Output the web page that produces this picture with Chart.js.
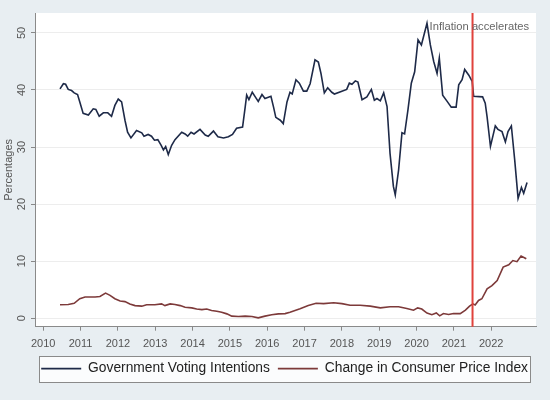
<!DOCTYPE html>
<html>
<head>
<meta charset="utf-8">
<script src="https://cdn.jsdelivr.net/npm/chart.js@4.4.0/dist/chart.umd.min.js"></script>
<style>
  html, body { margin: 0; padding: 0; background: #e8eef2; }
  #wrap { width: 550px; height: 400px; }
</style>
</head>
<body>
<div id="wrap"><canvas id="chart" width="550" height="400"></canvas></div>
<script>
// decimal years
var govDates = [2010.45, 2010.54, 2010.60, 2010.67, 2010.76, 2010.83, 2010.92, 2010.98, 2011.07, 2011.21,
  2011.34, 2011.41, 2011.50, 2011.61, 2011.73, 2011.83, 2011.92, 2012.01, 2012.10, 2012.19,
  2012.26, 2012.35, 2012.50, 2012.64, 2012.70, 2012.81, 2012.90, 2012.98, 2013.07, 2013.16,
  2013.22, 2013.28, 2013.35, 2013.44, 2013.53, 2013.71, 2013.80, 2013.87, 2013.96, 2014.04,
  2014.20, 2014.34, 2014.42, 2014.56, 2014.68, 2014.83, 2014.96, 2015.07, 2015.18, 2015.34,
  2015.41, 2015.45, 2015.51, 2015.60, 2015.68, 2015.76, 2015.86, 2015.94, 2016.10, 2016.17,
  2016.23, 2016.35, 2016.43, 2016.53, 2016.61, 2016.67, 2016.77, 2016.86, 2016.97, 2017.06,
  2017.15, 2017.28, 2017.37, 2017.44, 2017.53, 2017.62, 2017.73, 2017.80, 2018.00, 2018.13,
  2018.20, 2018.27, 2018.36, 2018.43, 2018.54, 2018.67, 2018.79, 2018.87, 2018.94, 2019.03,
  2019.12, 2019.21, 2019.29, 2019.38, 2019.43, 2019.52, 2019.61, 2019.68, 2019.77, 2019.86,
  2019.95, 2020.04, 2020.13, 2020.28, 2020.37, 2020.46, 2020.55, 2020.61, 2020.70, 2020.82,
  2020.93, 2021.06, 2021.13, 2021.22, 2021.29, 2021.40, 2021.49, 2021.53, 2021.77, 2021.84,
  2021.89, 2021.98, 2022.11, 2022.18, 2022.29, 2022.38, 2022.45, 2022.54, 2022.63, 2022.72,
  2022.81, 2022.87, 2022.96];
var govValues = [40.2, 41.1, 41.0, 40.1, 39.9, 39.5, 39.2, 37.9, 35.9, 35.6,
  36.7, 36.6, 35.4, 36.0, 36.0, 35.4, 37.3, 38.4, 37.9, 34.7,
  32.6, 31.6, 32.9, 32.5, 31.9, 32.2, 31.9, 31.2, 31.3, 30.3,
  29.5, 30.1, 28.7, 30.3, 31.3, 32.6, 32.3, 31.9, 32.6, 32.3,
  33.1, 32.1, 31.9, 32.8, 31.8, 31.6, 31.8, 32.2, 33.3, 33.5,
  37.0, 39.1, 38.3, 39.6, 38.8, 38.0, 39.2, 38.5, 38.9, 37.0,
  35.2, 34.7, 34.1, 37.9, 39.6, 39.3, 41.8, 41.2, 39.8, 39.8,
  41.1, 45.3, 44.9, 42.9, 39.5, 40.4, 39.6, 39.3, 39.8, 40.1,
  41.2, 41.0, 41.6, 41.4, 38.3, 38.8, 40.1, 38.2, 38.5, 38.1,
  39.5, 37.1, 28.9, 23.1, 21.6, 26.0, 32.5, 32.3, 36.5, 41.2,
  43.2, 48.8, 47.9, 51.7, 47.9, 45.0, 42.9, 45.6, 39.1, 38.0,
  37.0, 37.0, 40.9, 41.8, 43.6, 42.6, 41.5, 38.9, 38.8, 37.7,
  35.3, 30.1, 33.7, 33.1, 32.7, 30.9, 32.7, 33.7, 27.7, 21.0,
  22.9, 21.9, 23.8];

var cpiDates = [2010.45, 2010.67, 2010.83, 2010.98, 2011.12, 2011.25, 2011.39, 2011.52, 2011.67, 2011.79,
  2011.92, 2012.06, 2012.19, 2012.32, 2012.46, 2012.64, 2012.77, 2012.99, 2013.17, 2013.26,
  2013.40, 2013.53, 2013.67, 2013.80, 2013.98, 2014.11, 2014.25, 2014.38, 2014.51, 2014.65,
  2014.78, 2014.92, 2015.05, 2015.23, 2015.41, 2015.59, 2015.76, 2015.94, 2016.12, 2016.30,
  2016.48, 2016.61, 2016.88, 2017.10, 2017.31, 2017.51, 2017.78, 2018.00, 2018.22, 2018.49,
  2018.76, 2019.03, 2019.29, 2019.52, 2019.74, 2019.92, 2020.03, 2020.14, 2020.28, 2020.41,
  2020.53, 2020.62, 2020.72, 2020.86, 2020.99, 2021.17, 2021.31, 2021.42, 2021.51, 2021.57,
  2021.66, 2021.75, 2021.89, 2022.02, 2022.16, 2022.32, 2022.47, 2022.58, 2022.69, 2022.80,
  2022.94];
var cpiValues = [2.35, 2.4, 2.6, 3.4, 3.7, 3.7, 3.7, 3.8, 4.4, 4.0,
  3.4, 3.0, 2.9, 2.5, 2.2, 2.1, 2.35, 2.35, 2.5, 2.2,
  2.5, 2.4, 2.2, 1.9, 1.8, 1.6, 1.5, 1.6, 1.35, 1.2,
  1.05, 0.75, 0.35, 0.3, 0.35, 0.3, 0.05, 0.35, 0.6, 0.75,
  0.8, 1.05, 1.65, 2.2, 2.6, 2.55, 2.7, 2.55, 2.25, 2.25,
  2.1, 1.8, 2.0, 2.0, 1.7, 1.4, 1.8, 1.6, 0.9, 0.6,
  0.9, 0.4, 0.8, 0.65, 0.8, 0.8, 1.4, 2.1, 2.5, 2.3,
  3.1, 3.4, 5.15, 5.7, 6.6, 8.95, 9.35, 10.1, 9.9, 10.9,
  10.4];

var seriesNames = ['Government Voting Intentions', 'Change in Consumer Price Index'];
var xTicks = [2010, 2011, 2012, 2013, 2014, 2015, 2016, 2017, 2018, 2019, 2020, 2021, 2022];
var yTicks = [0, 10, 20, 30, 40, 50];
var inflationDate = 2021.5;
var noteText = 'Inflation accelerates';
var noteX = 2020.35;
var noteY = 51;

function toPoints(xs, ys) {
  return xs.map(function (x, i) { return { x: x, y: ys[i] }; });
}

var FONT = '"Liberation Sans", Arial, sans-serif';
Chart.defaults.font.family = FONT;

var stataLook = {
  id: 'stataLook',
  beforeDraw: function (chart) {
    var ctx = chart.ctx, a = chart.chartArea;
    ctx.save();
    ctx.fillStyle = '#e8eef2';
    ctx.fillRect(0, 0, chart.width, chart.height);
    ctx.fillStyle = '#ffffff';
    ctx.fillRect(a.left, a.top, a.right - a.left, a.bottom - a.top);
    // legend frame around the legend row
    var hb = chart.legend.legendHitBoxes;
    if (hb && hb.length) {
      var first = hb[0], last = hb[hb.length - 1];
      var l = Math.round(first.left - 2), r = Math.round(last.left + last.width + 2);
      var mid = first.top + first.height / 2;
      var t = Math.round(mid - 13), b = Math.round(mid + 13.5);
      ctx.fillStyle = '#fbfcfd';
      ctx.fillRect(l, t, r - l, b - t);
      ctx.strokeStyle = '#8a8a8a';
      ctx.lineWidth = 1;
      ctx.strokeRect(l + 0.5, t + 0.5, r - l, b - t);
    }
    ctx.restore();
  },
  afterDatasetsDraw: function (chart) {
    var ctx = chart.ctx, a = chart.chartArea;
    var xs = chart.scales.x, ys = chart.scales.y;
    var px = xs.getPixelForValue(inflationDate);
    ctx.save();
    ctx.strokeStyle = '#e0423c';
    ctx.lineWidth = 2;
    ctx.beginPath();
    ctx.moveTo(px, a.top);
    ctx.lineTo(px, a.bottom);
    ctx.stroke();
    ctx.fillStyle = '#666666';
    ctx.font = '11.2px ' + FONT;
    ctx.textAlign = 'left';
    ctx.textBaseline = 'middle';
    ctx.fillText(noteText, xs.getPixelForValue(noteX), ys.getPixelForValue(noteY));
    ctx.restore();
  }
};

var ctx = document.getElementById('chart').getContext('2d');

var myChart = new Chart(ctx, {
  type: 'line',
  data: {
    datasets: [{
      label: seriesNames[0],
      data: toPoints(govDates, govValues),
      borderColor: '#1e2a48',
      backgroundColor: '#1e2a48',
      borderWidth: 1.6,
      pointRadius: 0,
      tension: 0
    }, {
      label: seriesNames[1],
      data: toPoints(cpiDates, cpiValues),
      borderColor: '#7d3a3a',
      backgroundColor: '#7d3a3a',
      borderWidth: 1.6,
      pointRadius: 0,
      tension: 0
    }]
  },
  options: {
    responsive: false,
    animation: false,
    layout: { padding: { top: 13, right: 14, bottom: 14.5, left: 0 } },
    plugins: {
      tooltip: { enabled: false },
      legend: {
        position: 'bottom',
        align: 'end',
        labels: {
          usePointStyle: true,
          pointStyle: 'line',
          pointStyleWidth: 40,
          padding: 8,
          color: '#222222',
          font: { size: 13.8 }
        }
      }
    },
    scales: {
      x: {
        type: 'linear',
        min: 2009.78,
        max: 2023.2,
        afterBuildTicks: function (s) { s.ticks = xTicks.map(function (v) { return { value: v }; }); },
        afterFit: function (s) { s.height = 27; },
        grid: { drawOnChartArea: false, drawTicks: true, tickLength: 4, tickColor: '#888888' },
        border: { display: true, color: '#8a8a8a', width: 1 },
        ticks: { color: '#555555', font: { size: 11 }, padding: 7, maxRotation: 0, callback: function (v) { return String(v); } }
      },
      y: {
        min: -1.5,
        max: 53.5,
        afterBuildTicks: function (s) { s.ticks = yTicks.map(function (v) { return { value: v }; }); },
        afterFit: function (s) { s.width = 35; },
        grid: { color: '#ededed', lineWidth: 1, drawTicks: true, tickLength: 4, tickColor: '#888888' },
        border: { display: true, color: '#8a8a8a', width: 1 },
        title: { display: true, text: 'Percentages', color: '#555555', font: { size: 11 }, padding: { top: 2, bottom: 0 } },
        ticks: { color: '#555555', font: { size: 11 }, minRotation: 90, maxRotation: 90, crossAlign: 'center', padding: 3 }
      }
    }
  },
  plugins: [stataLook]
});
</script>
</body>
</html>
